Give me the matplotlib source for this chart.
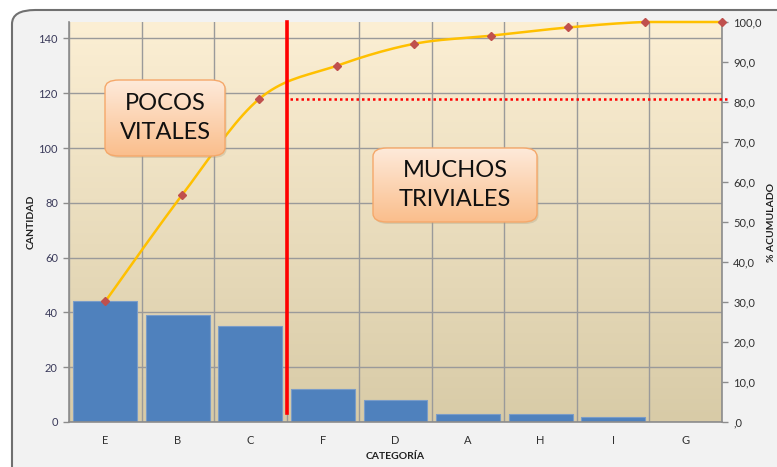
import numpy as np
import matplotlib.pyplot as plt
from matplotlib.patches import FancyBboxPatch

plt.rcParams['font.family'] = ['Lato', 'DejaVu Sans']

# datos
categorias = ['E', 'B', 'C', 'F', 'D', 'A', 'H', 'I', 'G']
cantidad = [44, 39, 35, 12, 8, 3, 3, 2, 0]
n_vitales = 3  # E, B, C

total = sum(cantidad)
acumulado = np.cumsum(cantidad) / total * 100.0

W, H = 777, 467
fig = plt.figure(figsize=(W / 100, H / 100), dpi=100)
fig.patch.set_facecolor('white')

# marco del grafico (area gris redondeada)
marco = FancyBboxPatch((12 / W, -0.1), 1.2, 1.1 - 10 / H,
                       boxstyle='round,pad=0,rounding_size=0.03',
                       transform=fig.transFigure, facecolor='#F2F2F2',
                       edgecolor='#707070', linewidth=1.5, zorder=-5)
fig.patches.append(marco)

ax = fig.add_axes([69 / W, 45 / H, (722 - 69) / W, (422 - 22) / H], zorder=1)
ax.set_facecolor('none')

# fondo degradado
grad = np.linspace(0, 1, 256).reshape(-1, 1)
top = np.array([252, 239, 212]) / 255
bot = np.array([216, 203, 167]) / 255
img = top[None, None, :] * (1 - grad[:, :, None]) + bot[None, None, :] * grad[:, :, None]
ax.imshow(img, extent=[0, 1, 0, 1], transform=ax.transAxes, aspect='auto', zorder=0.1)

x = np.arange(len(categorias))
ax.bar(x, cantidad, width=0.88, color='#4F81BD', edgecolor='#7A9CC8', linewidth=0.8, zorder=2)

ax.set_xlim(-0.5, len(categorias) - 0.5)
ax.set_ylim(0, total)
ax.set_yticks(np.arange(0, 141, 20))
ax.set_xticks(x)
ax.set_xticklabels(categorias)
ax.set_xticks(np.arange(-0.5, len(categorias), 1), minor=True)
ax.tick_params(axis='x', which='both', length=0, labelsize=8, colors='#303030', pad=9)
ax.tick_params(axis='y', length=4, width=1, color='#8C8C8C', labelsize=8, labelcolor='#3A3A5A', pad=4)

ax.set_axisbelow(True)
ax.yaxis.grid(True, color='#9A9A9A', linewidth=1.0)
ax.xaxis.grid(True, which='minor', color='#9A9A9A', linewidth=1.0)
ax.xaxis.grid(False, which='major')
for s in ['top', 'right']:
    ax.spines[s].set_visible(False)
ax.spines['left'].set_color('#8C8C8C')
ax.spines['bottom'].set_color('#8C8C8C')
ax.spines['left'].set_linewidth(1.2)
ax.spines['bottom'].set_linewidth(1.2)

ax.set_ylabel('CANTIDAD', fontsize=7.5, fontweight='bold', labelpad=2, color='#202020')
ax.set_xlabel('CATEGORÍA', fontsize=7.5, fontweight='bold', labelpad=5, color='#202020')

# eje secundario
ax2 = ax.twinx()
ax2.set_ylim(0, 100)
ax2.set_yticks(np.arange(0, 101, 10))
ax2.set_yticklabels([',0'] + ['%d,0' % v for v in range(10, 101, 10)])
ax2.tick_params(axis='y', length=4, width=1, color='#8C8C8C', labelsize=8, labelcolor='#303030', pad=4)
for s in ['top', 'left', 'bottom']:
    ax2.spines[s].set_visible(False)
ax2.spines['right'].set_color('#8C8C8C')
ax2.spines['right'].set_linewidth(1.2)
ax2.set_ylabel('% ACUMULADO', fontsize=7.5, fontweight='bold', labelpad=4, color='#202020',
               rotation=90)

# la curva acumulada va del centro de la primera categoria al borde derecho
xl = np.linspace(0, len(categorias) - 0.5, len(categorias))


def suavizar(px, py, pasos=20):
    # Catmull-Rom para imitar la linea suavizada de Excel
    px = np.concatenate([[px[0]], px, [px[-1]]])
    py = np.concatenate([[py[0]], py, [py[-1]]])
    sx, sy = [], []
    t = np.linspace(0, 1, pasos)
    for i in range(1, len(px) - 2):
        p0, p1, p2, p3 = [np.array([px[j], py[j]]) for j in (i - 1, i, i + 1, i + 2)]
        for tt in t:
            pt = 0.5 * ((2 * p1) + (-p0 + p2) * tt + (2 * p0 - 5 * p1 + 4 * p2 - p3) * tt ** 2
                        + (-p0 + 3 * p1 - 3 * p2 + p3) * tt ** 3)
            sx.append(pt[0])
            sy.append(pt[1])
    return sx, sy


cx, cy = suavizar(xl, acumulado)
cy = np.minimum(cy, 100)
ax2.plot(cx, cy, color='#FFC000', linewidth=1.8, zorder=3, clip_on=False)
ax2.plot(xl, acumulado, linestyle='none', marker='D', markersize=3.6,
         color='#C0504D', zorder=4, clip_on=False)

# separacion pocos vitales / muchos triviales
corte = n_vitales - 0.5
ax2.plot([corte, corte], [2.3, 100], color='#FF0000', linewidth=2.6, zorder=5, clip_on=False)
ax2.plot([corte + 0.04, len(categorias) - 0.4], [acumulado[n_vitales - 1]] * 2,
         color='#FF0000', linestyle=(0, (1, 1.2)), linewidth=1.8, zorder=5, clip_on=False)

# capa para las cajas de texto
iax = fig.add_axes([0, 0, 1, 1], zorder=7)
iax.set_axis_off()


def caja(x0, y0, x1, y1, texto):
    # caja redondeada con degradado naranja (coordenadas en pixeles de la figura)
    bx, by = x0 / W, 1 - y1 / H
    bw, bh = (x1 - x0) / W, (y1 - y0) / H
    sombra = FancyBboxPatch((bx + 1.5 / W, by - 2 / H), bw, bh,
                            boxstyle='round,pad=0,rounding_size=0.018',
                            transform=iax.transAxes, facecolor='#B0A080',
                            edgecolor='none', alpha=0.35, zorder=1)
    iax.add_patch(sombra)
    c1 = np.array([254, 234, 218]) / 255
    c2 = np.array([250, 190, 140]) / 255
    g = np.linspace(0, 1, 128).reshape(-1, 1)
    im = c1[None, None, :] * (1 - g[:, :, None]) + c2[None, None, :] * g[:, :, None]
    imo = iax.imshow(im, extent=[bx, bx + bw, by, by + bh], aspect='auto', zorder=2)
    clip = FancyBboxPatch((bx, by), bw, bh, boxstyle='round,pad=0,rounding_size=0.018',
                          transform=iax.transAxes, facecolor='none', edgecolor='none')
    iax.add_patch(clip)
    imo.set_clip_path(clip)
    borde = FancyBboxPatch((bx, by), bw, bh, boxstyle='round,pad=0,rounding_size=0.018',
                           transform=iax.transAxes, facecolor='none',
                           edgecolor='#F5A86A', linewidth=1.0, zorder=3)
    iax.add_patch(borde)
    iax.text(bx + bw / 2, by + bh / 2, texto, transform=iax.transAxes,
             ha='center', va='center', fontsize=17, color='#101010',
             linespacing=1.5, zorder=4)


caja(105, 80, 225, 156, 'POCOS\nVITALES')
caja(373, 148, 537, 222, 'MUCHOS\nTRIVIALES')
iax.set_xlim(0, 1)
iax.set_ylim(0, 1)

fig.savefig('out.png', dpi=100)
